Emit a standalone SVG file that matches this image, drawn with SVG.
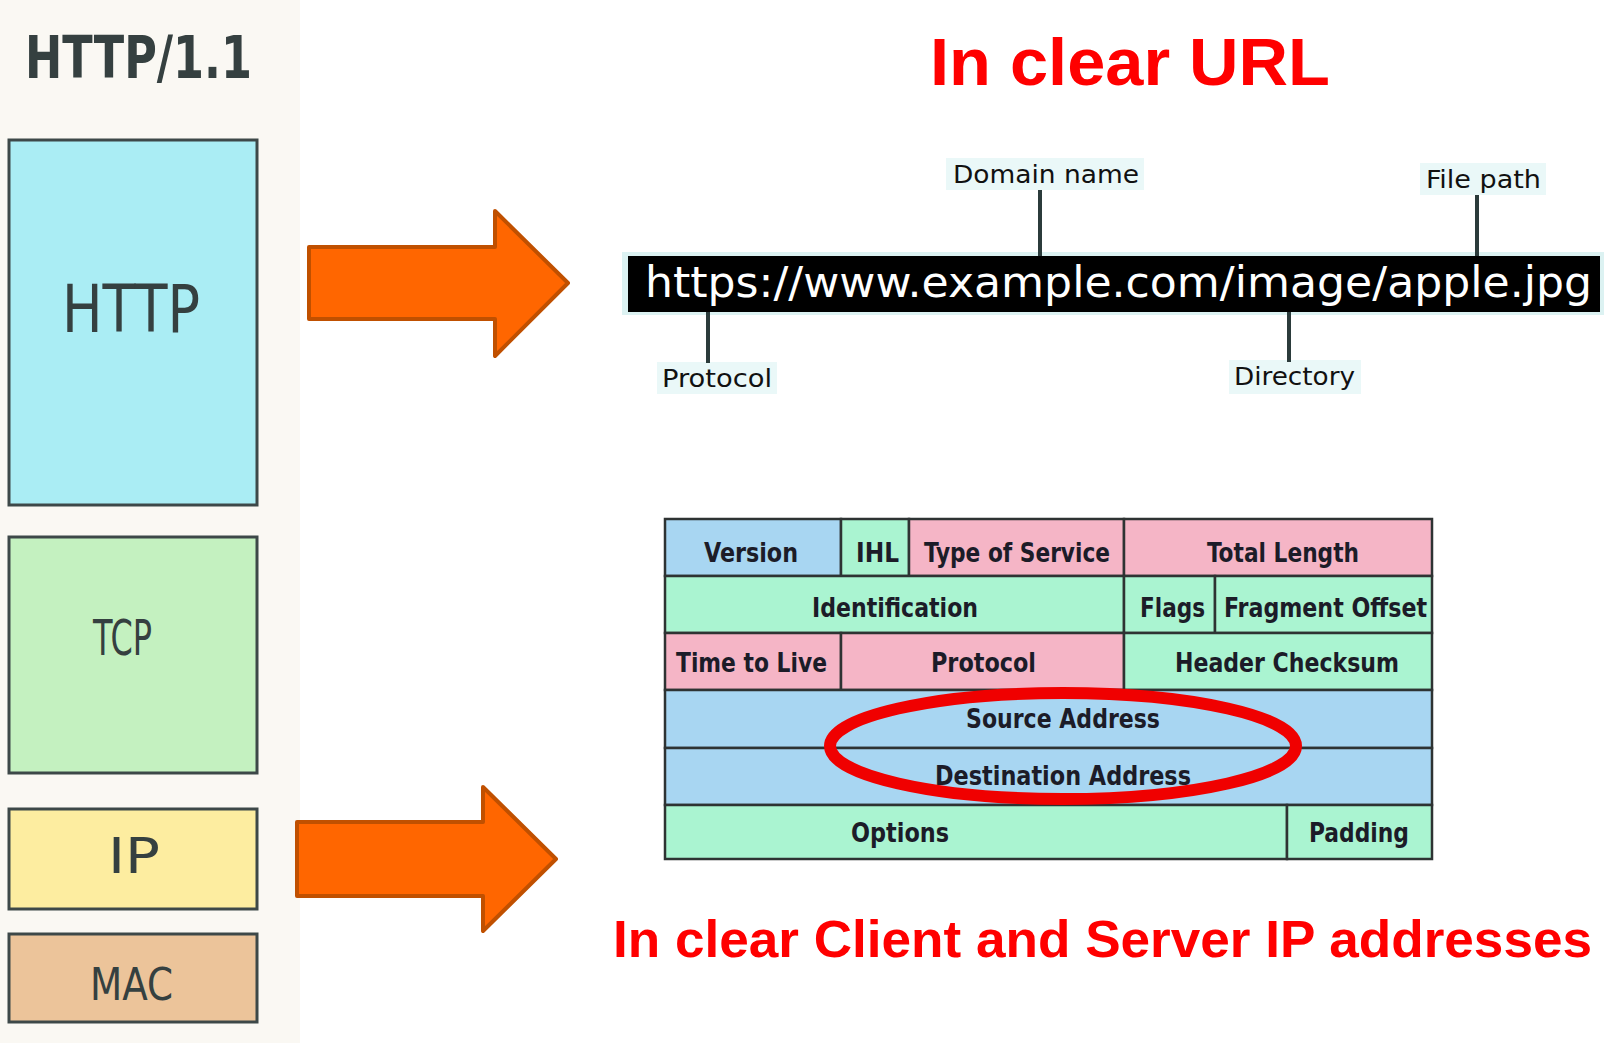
<svg xmlns="http://www.w3.org/2000/svg" width="1604" height="1043" viewBox="0 0 1604 1043">
<style>
.layer{stroke:#3d4848;stroke-width:3}
.hand{font-family:"DejaVu Sans Condensed","DejaVu Sans",sans-serif;fill:#354040;text-anchor:start}
.arrow{fill:#ff6600;stroke:#c05000;stroke-width:4;stroke-linejoin:round}
.title{font-family:"Liberation Sans",Arial,sans-serif;font-weight:bold;fill:#ff0000}
.lbl{font-family:"DejaVu Sans Condensed","DejaVu Sans",sans-serif;font-size:25px;fill:#111}
.halo{fill:#eaf8f8}
.lead{stroke:#2b3b3b;stroke-width:4}
.cell{stroke:#2e3333;stroke-width:2.5}
.blue{fill:#a8d6f2}
.green{fill:#aaf4d1}
.pink{fill:#f5b5c6}
.ft{font-family:"DejaVu Sans Condensed","DejaVu Sans",sans-serif;font-weight:bold;font-size:27px;fill:#1c1c28}
</style>
<rect width="1604" height="1043" fill="#ffffff"/>
<rect x="0" y="0" width="300" height="1043" fill="#faf8f3"/>

<g id="http11-title">
<text class="hand" x="25" y="78" font-size="58" font-weight="bold" textLength="227" lengthAdjust="spacingAndGlyphs">HTTP/1.1</text>
</g>
<g id="layer-http">
<rect class="layer" x="9" y="140" width="248" height="365" fill="#aaedf4"/>
<text class="hand" x="62" y="332" font-size="66" textLength="138" lengthAdjust="spacingAndGlyphs">HTTP</text>
</g>
<g id="layer-tcp">
<rect class="layer" x="9" y="537" width="248" height="236" fill="#c4f1c0"/>
<text class="hand" x="93" y="655" font-size="50" textLength="59" lengthAdjust="spacingAndGlyphs">TCP</text>
</g>
<g id="layer-ip">
<rect class="layer" x="9" y="809" width="248" height="100" fill="#fdeda0"/>
<text class="hand" x="108" y="873" font-size="50" textLength="52" lengthAdjust="spacingAndGlyphs">IP</text>
</g>
<g id="layer-mac">
<rect class="layer" x="9" y="934" width="248" height="88" fill="#ecc49a"/>
<text class="hand" x="90" y="1000" font-size="45" textLength="83" lengthAdjust="spacingAndGlyphs">MAC</text>
</g>

<g id="connectors">
<path class="arrow" d="M309,247 L495,247 L495,211 L568,283 L495,356 L495,319 L309,319 Z"/>
<path class="arrow" d="M297,822 L483,822 L483,787 L556,859 L483,931 L483,896 L297,896 Z"/>
</g>

<g id="title-url">
<text class="title" x="930" y="85" font-size="67" textLength="400" lengthAdjust="spacingAndGlyphs">In clear URL</text>
</g>

<g id="url">
<rect x="622" y="252" width="982" height="63" fill="#dcf2f2"/>
<rect x="628" y="256" width="972" height="56" fill="#000"/>
<text x="645" y="297" font-family="DejaVu Sans, sans-serif" font-size="43" fill="#fff" textLength="947" lengthAdjust="spacingAndGlyphs">https://www.example.com/image/apple.jpg</text>
</g>
<g id="label-domain">
<rect class="halo" x="946" y="158" width="198" height="32"/>
<line class="lead" x1="1040" y1="190" x2="1040" y2="256"/>
<text class="lbl" x="953" y="183" textLength="186" lengthAdjust="spacingAndGlyphs">Domain name</text>
</g>
<g id="label-filepath">
<rect class="halo" x="1420" y="163" width="126" height="32"/>
<line class="lead" x1="1477" y1="195" x2="1477" y2="256"/>
<text class="lbl" x="1426" y="188" textLength="115" lengthAdjust="spacingAndGlyphs">File path</text>
</g>
<g id="label-protocol">
<rect class="halo" x="657" y="362" width="120" height="32"/>
<line class="lead" x1="708" y1="312" x2="708" y2="363"/>
<text class="lbl" x="662" y="387" textLength="110" lengthAdjust="spacingAndGlyphs">Protocol</text>
</g>
<g id="label-directory">
<rect class="halo" x="1229" y="360" width="132" height="34"/>
<line class="lead" x1="1289" y1="312" x2="1289" y2="362"/>
<text class="lbl" x="1234" y="385" textLength="121" lengthAdjust="spacingAndGlyphs">Directory</text>
</g>

<g id="ip-header">
<rect class="cell blue" x="665" y="519" width="176" height="57"/>
<rect class="cell green" x="841" y="519" width="68" height="57"/>
<rect class="cell pink" x="909" y="519" width="215" height="57"/>
<rect class="cell pink" x="1124" y="519" width="308" height="57"/>
<rect class="cell green" x="665" y="576" width="459" height="57"/>
<rect class="cell green" x="1124" y="576" width="91" height="57"/>
<rect class="cell green" x="1215" y="576" width="217" height="57"/>
<rect class="cell pink" x="665" y="633" width="176" height="57"/>
<rect class="cell pink" x="841" y="633" width="283" height="57"/>
<rect class="cell green" x="1124" y="633" width="308" height="57"/>
<rect class="cell blue" x="665" y="690" width="767" height="58"/>
<rect class="cell blue" x="665" y="748" width="767" height="57"/>
<rect class="cell green" x="665" y="805" width="622" height="54"/>
<rect class="cell green" x="1287" y="805" width="145" height="54"/>
<text class="ft" x="704" y="562" textLength="94" lengthAdjust="spacingAndGlyphs">Version</text>
<text class="ft" x="856" y="562" textLength="43" lengthAdjust="spacingAndGlyphs">IHL</text>
<text class="ft" x="924" y="562" textLength="186" lengthAdjust="spacingAndGlyphs">Type of Service</text>
<text class="ft" x="1207" y="562" textLength="152" lengthAdjust="spacingAndGlyphs">Total Length</text>
<text class="ft" x="812" y="617" textLength="166" lengthAdjust="spacingAndGlyphs">Identification</text>
<text class="ft" x="1140" y="617" textLength="65" lengthAdjust="spacingAndGlyphs">Flags</text>
<text class="ft" x="1224" y="617" textLength="203" lengthAdjust="spacingAndGlyphs">Fragment Offset</text>
<text class="ft" x="676" y="672" textLength="151" lengthAdjust="spacingAndGlyphs">Time to Live</text>
<text class="ft" x="931" y="672" textLength="105" lengthAdjust="spacingAndGlyphs">Protocol</text>
<text class="ft" x="1175" y="672" textLength="224" lengthAdjust="spacingAndGlyphs">Header Checksum</text>
<text class="ft" x="966" y="728" textLength="194" lengthAdjust="spacingAndGlyphs">Source Address</text>
<text class="ft" x="935" y="785" textLength="256" lengthAdjust="spacingAndGlyphs">Destination Address</text>
<text class="ft" x="851" y="842" textLength="98" lengthAdjust="spacingAndGlyphs">Options</text>
<text class="ft" x="1309" y="842" textLength="100" lengthAdjust="spacingAndGlyphs">Padding</text>
</g>
<g id="highlight">
<ellipse cx="1063" cy="746" rx="233" ry="53" fill="none" stroke="#f00000" stroke-width="12"/>
</g>

<g id="title-ip">
<text class="title" x="613" y="957" font-size="52" textLength="979" lengthAdjust="spacingAndGlyphs">In clear Client and Server IP addresses</text>
</g>
</svg>
